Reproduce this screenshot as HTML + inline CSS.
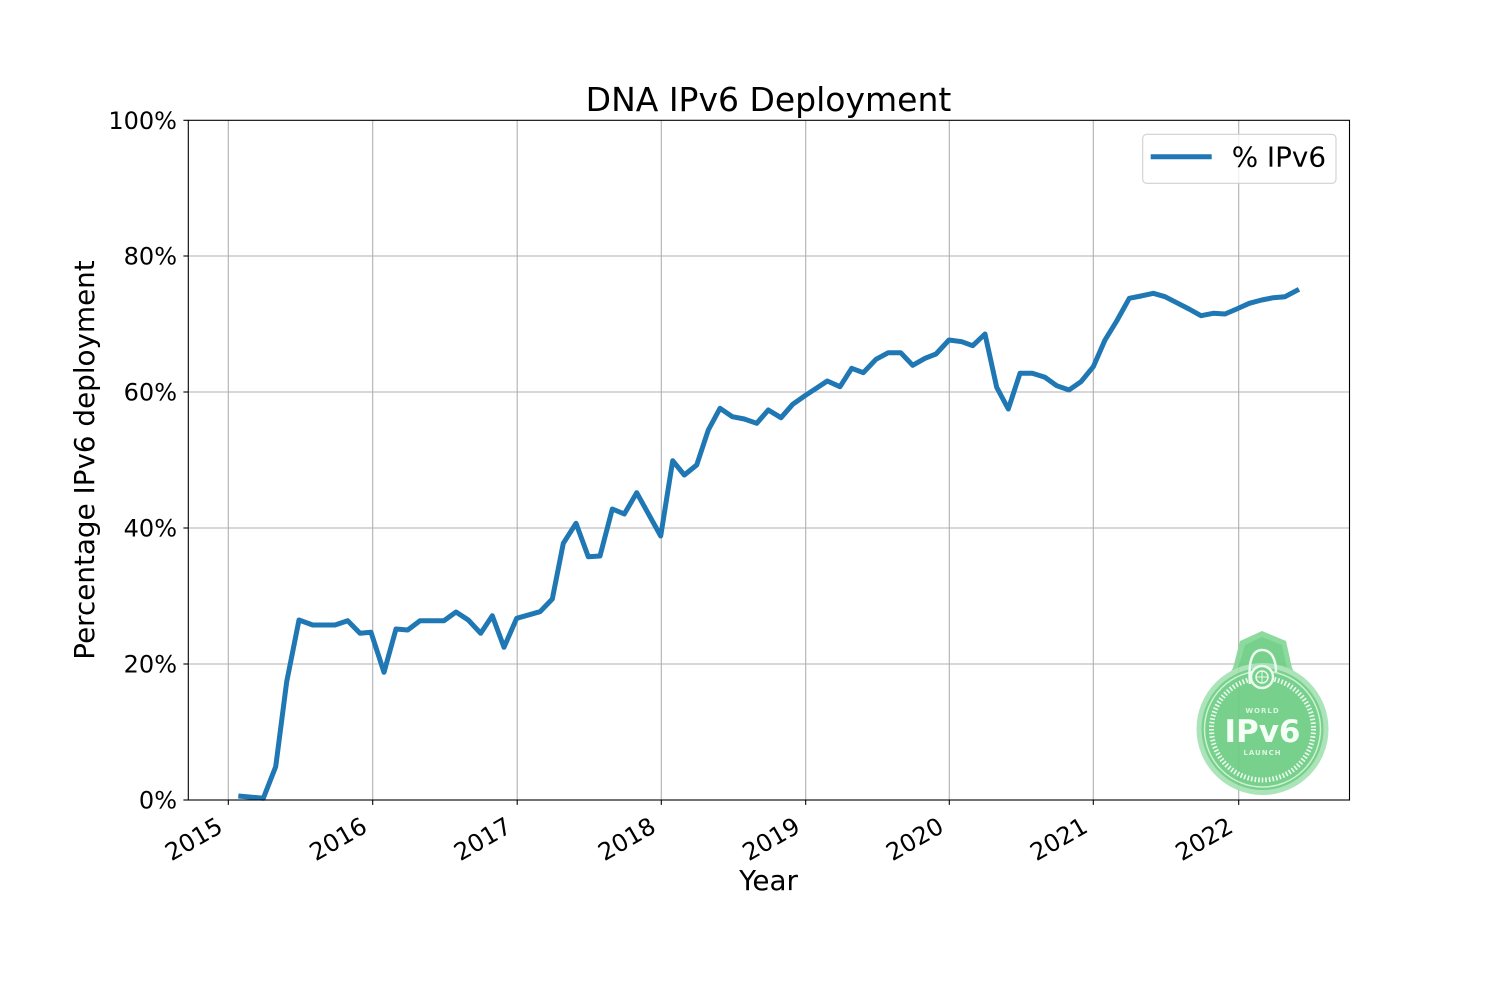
<!DOCTYPE html>
<html>
<head>
<meta charset="utf-8">
<style>
html,body{margin:0;padding:0;background:#fff;}
svg{display:block;}
text{font-family:"DejaVu Sans","Liberation Sans",sans-serif;fill:#000;}
</style>
</head>
<body>
<svg width="1500" height="1000" viewBox="0 0 1500 1000" xmlns="http://www.w3.org/2000/svg">
<rect x="0" y="0" width="1500" height="1000" fill="#fff"/>

<!-- grid -->
<g stroke="#b0b0b0" stroke-width="1.1" fill="none">
  <line x1="228.3" y1="120.3" x2="228.3" y2="800"/>
  <line x1="372.7" y1="120.3" x2="372.7" y2="800"/>
  <line x1="517.2" y1="120.3" x2="517.2" y2="800"/>
  <line x1="661.3" y1="120.3" x2="661.3" y2="800"/>
  <line x1="805.7" y1="120.3" x2="805.7" y2="800"/>
  <line x1="949.3" y1="120.3" x2="949.3" y2="800"/>
  <line x1="1093.3" y1="120.3" x2="1093.3" y2="800"/>
  <line x1="1238.7" y1="120.3" x2="1238.7" y2="800"/>
  <line x1="188.3" y1="664" x2="1349.5" y2="664"/>
  <line x1="188.3" y1="528" x2="1349.5" y2="528"/>
  <line x1="188.3" y1="392" x2="1349.5" y2="392"/>
  <line x1="188.3" y1="256" x2="1349.5" y2="256"/>
</g>

<!-- logo -->
<g opacity="0.92">
  <path d="M1240,641 L1262,631 L1286,641 L1292,668 L1300,682 L1225,682 L1233,668 Z" fill="#84d797"/>
  <path d="M1245,645 L1262,637 L1282,645 L1287,668 L1238,668 Z" fill="#6ccd82"/>
  <circle cx="1262.5" cy="729" r="66" fill="#a4e2b2"/>
  <circle cx="1262.5" cy="729" r="61" fill="#6ccd82"/>
  <circle cx="1262.5" cy="729" r="58" fill="none" stroke="#c9f0d2" stroke-width="1.5"/>
  <circle cx="1262.5" cy="729" r="51" fill="none" stroke="#eafbee" stroke-width="5" stroke-dasharray="1.6 2"/>
  <path d="M1250,684 C1248,662 1252,650 1262,650 C1272,650 1276,660 1276,672" fill="none" stroke="#eafbee" stroke-width="2.5"/>
  <circle cx="1262" cy="677" r="11" fill="#6ccd82" stroke="#eafbee" stroke-width="2.5"/>
  <circle cx="1262" cy="677" r="6" fill="none" stroke="#eafbee" stroke-width="1.5"/>
  <line x1="1256" y1="677" x2="1268" y2="677" stroke="#eafbee" stroke-width="1"/>
  <line x1="1262" y1="671" x2="1262" y2="683" stroke="#eafbee" stroke-width="1"/>
  <text x="1262.5" y="713" text-anchor="middle" style="font-size:7px;font-weight:bold;fill:#d8f5de;letter-spacing:1px">WORLD</text>
  <text x="1262.5" y="742" text-anchor="middle" style="font-size:31px;font-weight:bold;fill:#f4fff6">IPv6</text>
  <text x="1262.5" y="755" text-anchor="middle" style="font-size:7px;font-weight:bold;fill:#d8f5de;letter-spacing:1px">LAUNCH</text>
</g>

<!-- data line -->
<polyline fill="none" stroke="#1f77b4" stroke-width="5" stroke-linejoin="round" stroke-linecap="butt" points="
238.3,796 263.3,798.3 275.7,766.7 286.7,681.7 299,620 312.7,625 335,625 347.7,620.7 360,633.3 371,632.3 384,672.3 396,629 407.7,630 420,620.7 444,620.7 456,612 468.3,620 480.7,633.3 492.3,615.7 504,647.3 516.7,618.3 540,611.7 552.3,599
563.3,543.3 576,523.3 588.3,556.7 600,556 612.3,509 624.3,514 636.7,492.7 660.7,536 672.7,460.7 684.3,475 696.7,465 708.3,430 720,408.3 732.3,416.7 744.3,419 756.7,423.3 768.3,410 781,417.7 792.7,404.3 805,395.7
827.3,381 840,386.7 851.7,368.3 863.3,372.7 876,359.3 888.3,352.7 900.7,352.7 912.7,365.3 925,358.3 936,354 949,340 961.7,341.7 972.7,345.7 985,334 996.7,387.3 1008.3,409 1020,373.3 1032.3,373.3 1045,377.3 1056.7,385.7 1069,390 1081,381.7 1093.3,366.7
1105,340 1116.7,321 1129.3,298.3 1141,296 1153.3,293.3 1165,296.7 1176.7,302.7 1189,309 1201,315.7 1213.3,313.3 1225,314 1236.7,309 1249.3,303.3 1261.7,300 1273.3,297.7 1285,296.7 1299,289.3"/>

<!-- axes spines -->
<rect x="188.3" y="120.3" width="1161.2" height="679.7" fill="none" stroke="#000" stroke-width="1.1"/>

<!-- y ticks -->
<g stroke="#000" stroke-width="1.1">
  <line x1="183.4" y1="800" x2="188.3" y2="800"/>
  <line x1="183.4" y1="664" x2="188.3" y2="664"/>
  <line x1="183.4" y1="528" x2="188.3" y2="528"/>
  <line x1="183.4" y1="392" x2="188.3" y2="392"/>
  <line x1="183.4" y1="256" x2="188.3" y2="256"/>
  <line x1="183.4" y1="120.3" x2="188.3" y2="120.3"/>
</g>
<g style="font-size:24px" text-anchor="end">
  <text x="177" y="808.7">0%</text>
  <text x="177" y="672.7">20%</text>
  <text x="177" y="536.7">40%</text>
  <text x="177" y="400.7">60%</text>
  <text x="177" y="264.7">80%</text>
  <text x="177" y="129">100%</text>
</g>

<!-- x ticks -->
<g stroke="#000" stroke-width="1.1">
  <line x1="228.3" y1="800" x2="228.3" y2="804.9"/>
  <line x1="372.7" y1="800" x2="372.7" y2="804.9"/>
  <line x1="517.2" y1="800" x2="517.2" y2="804.9"/>
  <line x1="661.3" y1="800" x2="661.3" y2="804.9"/>
  <line x1="805.7" y1="800" x2="805.7" y2="804.9"/>
  <line x1="949.3" y1="800" x2="949.3" y2="804.9"/>
  <line x1="1093.3" y1="800" x2="1093.3" y2="804.9"/>
  <line x1="1238.7" y1="800" x2="1238.7" y2="804.9"/>
</g>
<g style="font-size:24px" text-anchor="end">
  <text transform="translate(224.3,831) rotate(-30)">2015</text>
  <text transform="translate(368.7,831) rotate(-30)">2016</text>
  <text transform="translate(513.2,831) rotate(-30)">2017</text>
  <text transform="translate(657.3,831) rotate(-30)">2018</text>
  <text transform="translate(801.7,831) rotate(-30)">2019</text>
  <text transform="translate(945.3,831) rotate(-30)">2020</text>
  <text transform="translate(1089.3,831) rotate(-30)">2021</text>
  <text transform="translate(1234.7,831) rotate(-30)">2022</text>
</g>

<!-- labels -->
<text x="768.5" y="111" text-anchor="middle" style="font-size:33px">DNA IPv6 Deployment</text>
<text x="768.5" y="890" text-anchor="middle" style="font-size:27.8px">Year</text>
<text transform="translate(94,460) rotate(-90)" text-anchor="middle" style="font-size:27.8px">Percentage IPv6 deployment</text>

<!-- legend -->
<rect x="1142.7" y="134.3" width="193.3" height="49" rx="4" ry="4" fill="#fff" fill-opacity="0.8" stroke="#d0d0d0" stroke-width="1.1"/>
<line x1="1150.7" y1="156.7" x2="1211.7" y2="156.7" stroke="#1f77b4" stroke-width="5"/>
<text x="1231.7" y="166.7" style="font-size:27.8px">% IPv6</text>
</svg>
</body>
</html>
